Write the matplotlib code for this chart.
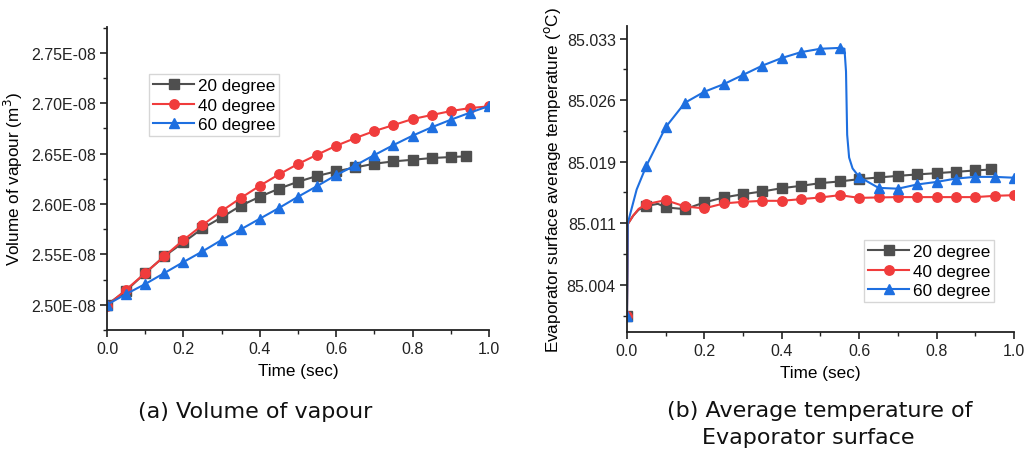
import numpy as np
import matplotlib
matplotlib.use("Agg")
import matplotlib.pyplot as plt
from matplotlib.ticker import MultipleLocator, FuncFormatter, FixedLocator, FixedFormatter, AutoMinorLocator

plt.rcParams['font.family'] = ['Liberation Sans', 'DejaVu Sans']

# ---------------- data: panel (a) volume of vapour ----------------
time_a = [0.00, 0.05, 0.10, 0.15, 0.20, 0.25, 0.30, 0.35, 0.40, 0.45, 0.50,
          0.55, 0.60, 0.65, 0.70, 0.75, 0.80, 0.85, 0.90, 0.95, 1.00]
time_a20 = [0.00, 0.05, 0.10, 0.15, 0.20, 0.25, 0.30, 0.35, 0.40, 0.45, 0.50,
            0.55, 0.60, 0.65, 0.70, 0.75, 0.80, 0.85, 0.90, 0.94]
vol_20 = [2.500, 2.5139, 2.5314, 2.5480, 2.5618, 2.5757, 2.5866, 2.5982, 2.6071, 2.6151,
          2.6220, 2.6277, 2.6323, 2.6362, 2.6399, 2.6422, 2.6438, 2.6455, 2.6465, 2.6472]
vol_40 = [2.499, 2.5149, 2.5314, 2.5480, 2.5642, 2.5790, 2.5929, 2.6058, 2.6180, 2.6293,
          2.6396, 2.6488, 2.6577, 2.6653, 2.6723, 2.6782, 2.6842, 2.6882, 2.6921, 2.6951, 2.6968]
vol_60 = [2.500, 2.5106, 2.5205, 2.5314, 2.5423, 2.5529, 2.5642, 2.5747, 2.5853, 2.5959,
          2.6071, 2.6177, 2.6286, 2.6382, 2.6485, 2.6584, 2.6677, 2.6760, 2.6835, 2.6905, 2.6971]
vol_scale = 1e-8

# ---------------- data: panel (b) evaporator temperature ----------------
time_b20 = [0.000, 0.002, 0.016, 0.030, 0.05, 0.08, 0.10, 0.15, 0.20, 0.25, 0.30, 0.35, 0.40,
            0.45, 0.50, 0.55, 0.60, 0.65, 0.70, 0.75, 0.80, 0.85, 0.90, 0.94]
temp_20 = [85.0000, 85.0109, 85.0119, 85.0126, 85.01306, 85.0133, 85.01288, 85.01267, 85.01347,
           85.01406, 85.01445, 85.01477, 85.01516, 85.01544, 85.01576, 85.01596, 85.01623,
           85.01643, 85.01662, 85.01679, 85.01694, 85.01710, 85.01726, 85.01738]
time_b40 = [0.000, 0.002, 0.016, 0.030, 0.05, 0.10, 0.15, 0.20, 0.25, 0.30, 0.35, 0.40, 0.45,
            0.50, 0.55, 0.60, 0.65, 0.70, 0.75, 0.80, 0.85, 0.90, 0.95, 1.00]
temp_40 = [85.0000, 85.0109, 85.0119, 85.0127, 85.01327, 85.01374, 85.01299, 85.01276,
           85.01335, 85.01354, 85.01366, 85.01366, 85.01386, 85.01406, 85.01433, 85.01401,
           85.01406, 85.01410, 85.01410, 85.01410, 85.01410, 85.01410, 85.01425, 85.01433]
time_b60 = [0.000, 0.002, 0.025, 0.05, 0.10, 0.15, 0.20, 0.25, 0.30, 0.35, 0.40, 0.45, 0.50,
            0.55, 0.562, 0.566, 0.569, 0.574, 0.583, 0.60, 0.65, 0.70, 0.75, 0.80, 0.85,
            0.90, 0.95, 1.00]
temp_60 = [85.0000, 85.0110, 85.0150, 85.0178, 85.0224, 85.0253, 85.0266, 85.0275, 85.0286,
           85.0297, 85.0306, 85.0313, 85.0317, 85.0318, 85.0317, 85.0290, 85.0215, 85.0188,
           85.0175, 85.0165, 85.0152, 85.0151, 85.0156, 85.0159, 85.0163, 85.0165, 85.0165,
           85.0164]
temp_ticks = [85.0037, 85.0110, 85.0183, 85.0256, 85.0329]
temp_tick_labels = ['85.004', '85.011', '85.019', '85.026', '85.033']

labels = ['20 degree', '40 degree', '60 degree']
colors = ['#4f4f4f', '#f03c3c', '#1e6fe0']
markers = ['s', 'o', '^']

TICK_FS = 11.5
LABEL_FS = 12.3
LEG_FS = 12.3
CAP_FS = 16

fig = plt.figure(figsize=(10.27, 4.52), dpi=100)
ax1 = fig.add_axes([0.1042, 0.2677, 0.3719, 0.6703])
ax2 = fig.add_axes([0.6105, 0.2633, 0.3768, 0.6770])

def style(ax):
    for s in ['top', 'right']:
        ax.spines[s].set_visible(False)
    for s in ['left', 'bottom']:
        ax.spines[s].set_linewidth(1.3)
        ax.spines[s].set_color('#222222')
    ax.tick_params(which='major', direction='out', length=5, width=1.2, labelsize=TICK_FS,
                   colors='#222222', pad=3)
    ax.tick_params(which='minor', direction='out', length=3, width=1.0, colors='#222222')
    ax.set_xlim(0, 1.0)
    ax.xaxis.set_major_locator(MultipleLocator(0.2))
    ax.xaxis.set_minor_locator(MultipleLocator(0.1))
    ax.xaxis.set_major_formatter(FuncFormatter(lambda v, p: f"{v:.1f}"))
    ax.set_xlabel('Time (sec)', fontsize=LABEL_FS, labelpad=5)
    ax.yaxis.get_offset_text().set_visible(False)
    ax.xaxis.get_offset_text().set_visible(False)

def is_marker_time(t):
    return [abs(v / 0.05 - round(v / 0.05)) < 1e-6 or abs(v - 0.94) < 1e-9 for v in t]

leg_kw = dict(loc='upper left', bbox_transform=fig.transFigure, borderaxespad=0,
              fontsize=LEG_FS, frameon=True, fancybox=False, edgecolor='#cccccc',
              handlelength=2.4, labelspacing=0.25, handletextpad=0.2, borderpad=0.25)

# panel (a)
style(ax1)
series_a = [(time_a20, vol_20), (time_a, vol_40), (time_a, vol_60)]
for (t, v), lab, c, m in zip(series_a, labels, colors, markers):
    ax1.plot(t, np.array(v) * vol_scale, color=c, marker=m, markersize=6.8, lw=1.5,
             label=lab, clip_on=True)
ax1.set_ylim(2.4749e-8, 2.7755e-8)
ax1.yaxis.set_major_locator(MultipleLocator(0.05e-8))
ax1.yaxis.set_minor_locator(AutoMinorLocator(2))
ax1.yaxis.set_major_formatter(FuncFormatter(lambda v, p: f"{v:.2E}"))
ax1.set_ylabel('Volume of vapour (m$^3$)', fontsize=LABEL_FS, labelpad=4)
ax1.legend(bbox_to_anchor=(0.1451, 0.834), **leg_kw)

# panel (b)
style(ax2)
series_b = [(time_b20, temp_20), (time_b40, temp_40), (time_b60, temp_60)]
for (t, v), lab, c, m in zip(series_b, labels, colors, markers):
    ax2.plot(t, v, color=c, marker=m, markersize=6.8, lw=1.5, label=lab,
             markevery=is_marker_time(t), clip_on=True)
ax2.set_ylim(84.9981, 85.0344)
ax2.yaxis.set_major_locator(FixedLocator(temp_ticks))
ax2.yaxis.set_major_formatter(FixedFormatter(temp_tick_labels))
minor_b = [(a + b) / 2 for a, b in zip(temp_ticks[:-1], temp_ticks[1:])] + [temp_ticks[0] - 0.00365]
ax2.yaxis.set_minor_locator(FixedLocator(minor_b))
ax2.set_ylabel('Evaporator surface average temperature ($^{\\rm o}$C)', fontsize=LABEL_FS,
               labelpad=3)
ax2.legend(bbox_to_anchor=(0.8413, 0.4668), **leg_kw)

# captions
fig.text(255 / 1027, 1 - 412 / 452, '(a) Volume of vapour', ha='center', va='center',
         fontsize=CAP_FS, family='DejaVu Sans', color='#111111')
fig.text(820 / 1027, 1 - 411 / 452, '(b) Average temperature of', ha='center', va='center',
         fontsize=CAP_FS, family='DejaVu Sans', color='#111111')
fig.text(808 / 1027, 1 - 438 / 452, 'Evaporator surface', ha='center', va='center',
         fontsize=CAP_FS, family='DejaVu Sans', color='#111111')

fig.savefig('out.png', dpi=100, facecolor='white')
